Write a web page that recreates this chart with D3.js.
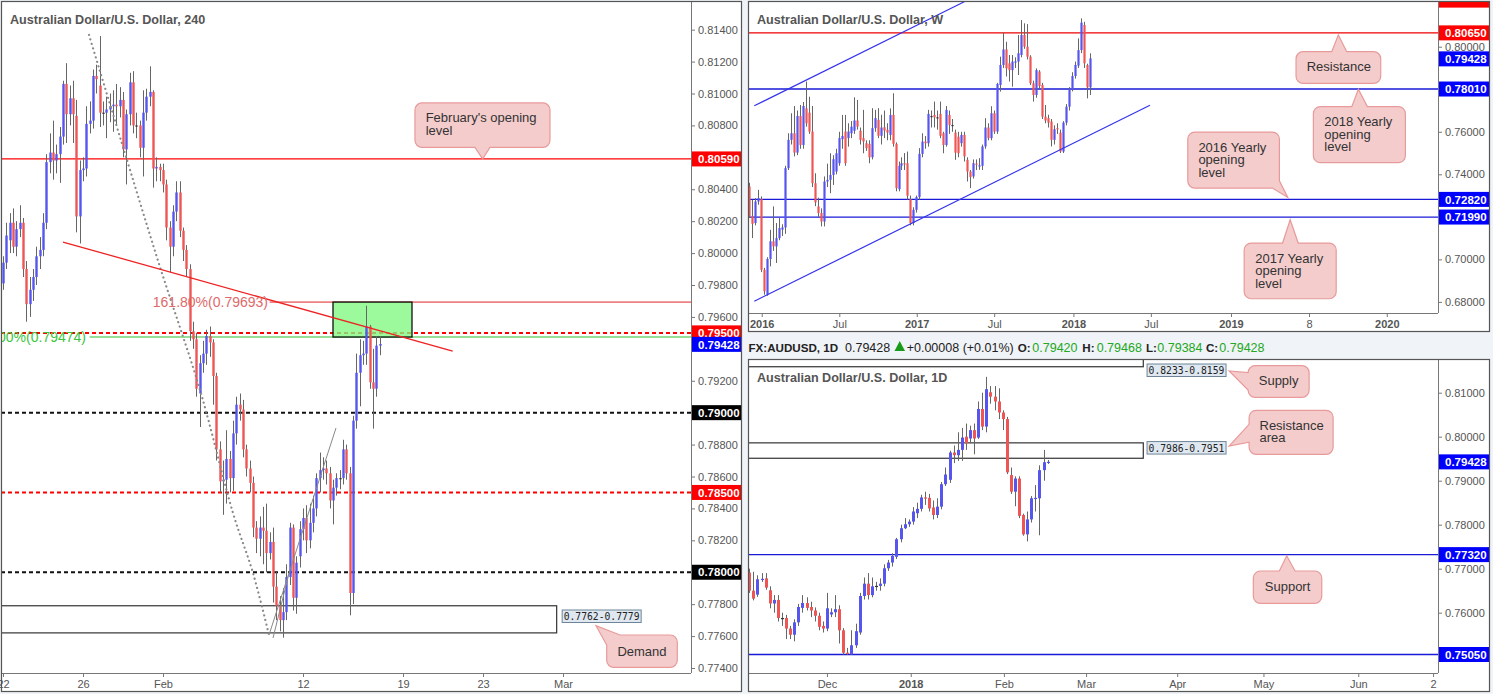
<!DOCTYPE html>
<html>
<head>
<meta charset="utf-8">
<script src="https://cdnjs.cloudflare.com/ajax/libs/d3/7.8.5/d3.min.js"></script>
<style>
  body { margin: 0; background: #f0f3f7; overflow: hidden; }
  svg { display: block; font-family: "Liberation Sans", Arial, sans-serif; }
</style>
</head>
<body>
<svg id="chart" width="1493" height="694"></svg>
<script>
// ---------- data: [open, high, low, close] ----------
const h4Ohlc = [
  [.7981,.7998,.7977,.7994],[.7994,.8019,.7990,.8011],[.8008,.8025,.8000,.8019],[.8019,.8028,.8000,.8004],
  [.8004,.8020,.7998,.8015],[.8015,.8030,.8010,.8019],[.8019,.8022,.7985,.7990],[.7990,.7995,.7957,.7968],
  [.7968,.7985,.7960,.7977],[.7977,.7990,.7970,.7985],[.7985,.8004,.7980,.7998],[.7998,.8010,.7990,.8002],
  [.8002,.8025,.7998,.8019],[.8019,.8062,.8015,.8057],[.8057,.8075,.8050,.8063],[.8063,.8083,.8046,.8058],
  [.8058,.8068,.8050,.8062],[.8062,.8079,.8044,.8073],[.8073,.8108,.8068,.8106],[.8106,.8119,.8069,.8087],
  [.8087,.8105,.8080,.8097],[.8097,.8108,.8069,.8087],[.8086,.8096,.8013,.8023],[.8023,.8058,.8006,.8052],
  [.8052,.8060,.8045,.8053],[.8053,.8092,.8048,.8081],[.8081,.8095,.8075,.8083],[.8083,.8115,.8078,.8111],
  [.8111,.8118,.8100,.8109],[.8105,.8136,.8079,.8088],[.8088,.8095,.8080,.8088],[.8088,.8098,.8072,.8090],
  [.8090,.8100,.8082,.8092],[.8092,.8102,.8076,.8093],[.8093,.8106,.8080,.8092],[.8092,.8104,.8085,.8096],
  [.8096,.8101,.8060,.8065],[.8065,.8090,.8043,.8087],[.8087,.8113,.8080,.8107],[.8107,.8114,.8075,.8080],
  [.8080,.8088,.8072,.8080],[.8080,.8083,.8060,.8066],[.8066,.8102,.8048,.8088],[.8088,.8103,.8083,.8098],
  [.8098,.8117,.8092,.8101],[.8101,.8102,.8041,.8053],[.8053,.8060,.8045,.8054],[.8054,.8056,.8045,.8052],
  [.8052,.8056,.8038,.8043],[.8043,.8046,.8008,.8016],[.8016,.8020,.7988,.8004],[.8004,.8030,.7998,.8026],
  [.8026,.8045,.8020,.8038],[.8038,.8045,.8010,.8014],[.8014,.8016,.7995,.8002],[.8002,.8005,.7985,.7990],
  [.7990,.7993,.7945,.7951],[.7951,.7957,.7940,.7946],[.7946,.7950,.7910,.7915],[.7912,.7936,.7891,.7931],
  [.7931,.7945,.7925,.7937],[.7937,.7952,.7930,.7948],[.7948,.7954,.7935,.7944],[.7944,.7946,.7905,.7923],
  [.7923,.7925,.7870,.7877],[.7877,.7882,.7850,.7857],[.7857,.7870,.7836,.7858],[.7858,.7889,.7843,.7871],
  [.7871,.7876,.7850,.7859],[.7859,.7895,.7851,.7887],[.7887,.7910,.7880,.7905],[.7905,.7912,.7895,.7902],
  [.7902,.7908,.7872,.7877],[.7877,.7880,.7860,.7865],[.7865,.7870,.7850,.7856],[.7856,.7860,.7822,.7828],
  [.7828,.7832,.7812,.7821],[.7821,.7835,.7810,.7828],[.7828,.7841,.7805,.7826],[.7826,.7843,.7800,.7812],
  [.7812,.7825,.7808,.7819],[.7819,.7828,.7781,.7791],[.7791,.7800,.7770,.7779],[.7779,.7785,.7763,.7770],
  [.7770,.7790,.7759,.7775],[.7775,.7805,.7770,.7797],[.7797,.7831,.7792,.7828],[.7828,.7830,.7776,.7784],
  [.7784,.7810,.7774,.7806],[.7810,.7832,.7803,.7827],[.7827,.7840,.7820,.7834],[.7834,.7842,.7812,.7820],
  [.7820,.7843,.7815,.7831],[.7831,.7848,.7825,.7840],[.7840,.7862,.7835,.7859],[.7859,.7875,.7850,.7864],
  [.7864,.7872,.7858,.7865],[.7865,.7870,.7855,.7862],[.7862,.7866,.7840,.7845],[.7845,.7858,.7830,.7853],
  [.7853,.7862,.7848,.7859],[.7859,.7864,.7852,.7859],[.7859,.7883,.7855,.7877],[.7877,.7880,.7858,.7862],
  [.7862,.7866,.7773,.7787],[.7787,.7898,.7780,.7895],[.7895,.7937,.7890,.7925],[.7925,.7946,.7904,.7936],
  [.7936,.7945,.7930,.7937],[.7937,.7967,.7930,.7954],[.7954,.7955,.7915,.7919],[.7919,.7940,.7890,.7915],
  [.7915,.7948,.7910,.7942],[.7942,.7948,.7936,.7943]
];

const weeklyOhlc = [
  [.7343,.7360,.7195,.7202],[.7202,.7280,.7100,.7167],[.7171,.7288,.7160,.7272],[.7272,.7327,.7257,.7288],
  [.7283,.7296,.6940,.6951],[.6951,.6960,.6834,.6850],[.6834,.7010,.6829,.7002],[.7002,.7139,.6967,.7085],
  [.7085,.7249,.7040,.7061],[.7061,.7171,.6983,.7100],[.7100,.7194,.7090,.7147],[.7140,.7165,.7110,.7150],
  [.7150,.7440,.7120,.7429],[.7429,.7593,.7420,.7562],[.7562,.7687,.7540,.7593],[.7593,.7721,.7484,.7502],
  [.7502,.7700,.7490,.7674],[.7674,.7726,.7520,.7538],[.7538,.7740,.7520,.7721],[.7710,.7836,.7624,.7640],
  [.7690,.7765,.7590,.7601],[.7601,.7721,.7340,.7358],[.7358,.7405,.7250,.7268],[.7249,.7290,.7200,.7218],
  [.7218,.7240,.7155,.7178],[.7178,.7390,.7155,.7366],[.7366,.7450,.7340,.7374],[.7374,.7499,.7311,.7397],
  [.7397,.7490,.7350,.7471],[.7413,.7520,.7400,.7499],[.7452,.7600,.7440,.7570],[.7565,.7679,.7520,.7580],
  [.7601,.7679,.7440,.7452],[.7570,.7640,.7530,.7601],[.7593,.7650,.7570,.7624],[.7605,.7762,.7590,.7653],
  [.7653,.7750,.7610,.7624],[.7605,.7620,.7540,.7562],[.7570,.7703,.7499,.7554],[.7546,.7560,.7510,.7523],
  [.7543,.7560,.7452,.7480],[.7480,.7711,.7470,.7617],[.7617,.7703,.7600,.7664],[.7656,.7711,.7570,.7581],
  [.7581,.7680,.7540,.7620],[.7621,.7700,.7570,.7606],[.7609,.7640,.7560,.7596],[.7585,.7710,.7560,.7679],
  [.7679,.7781,.7530,.7543],[.7543,.7550,.7320,.7335],[.7330,.7460,.7320,.7440],[.7440,.7480,.7420,.7452],
  [.7452,.7500,.7420,.7449],[.7452,.7507,.7280,.7299],[.7283,.7300,.7160,.7171],[.7171,.7245,.7160,.7233],
  [.7233,.7300,.7220,.7293],[.7293,.7523,.7280,.7496],[.7496,.7593,.7480,.7554],[.7554,.7580,.7520,.7546],
  [.7546,.7703,.7530,.7684],[.7674,.7700,.7620,.7674],[.7679,.7742,.7620,.7668],[.7668,.7700,.7610,.7668],
  [.7684,.7742,.7570,.7581],[.7593,.7600,.7499,.7538],[.7538,.7721,.7530,.7703],[.7679,.7700,.7590,.7632],
  [.7632,.7660,.7600,.7632],[.7596,.7610,.7468,.7502],[.7577,.7600,.7480,.7499],[.7546,.7600,.7530,.7585],
  [.7585,.7600,.7460,.7484],[.7468,.7480,.7366,.7413],[.7413,.7420,.7335,.7387],[.7390,.7470,.7380,.7452],
  [.7450,.7470,.7420,.7449],[.7440,.7476,.7421,.7442],[.7440,.7540,.7420,.7531],[.7531,.7664,.7520,.7620],
  [.7620,.7640,.7560,.7570],[.7570,.7720,.7560,.7687],[.7687,.7700,.7590,.7601],[.7601,.7830,.7590,.7825],
  [.7820,.7953,.7789,.7914],[.7914,.8066,.7900,.7987],[.7987,.8023,.7860,.7898],[.7922,.7961,.7836,.7890],
  [.7890,.7961,.7812,.7930],[.7930,.7950,.7900,.7931],[.7930,.8055,.7867,.7969],[.7961,.8125,.7950,.8055],
  [.8055,.8110,.7990,.8000],[.8000,.8106,.7940,.7953],[.7953,.7960,.7820,.7828],[.7828,.7840,.7742,.7773],
  [.7773,.7898,.7760,.7890],[.7883,.7890,.7800,.7815],[.7820,.7830,.7660,.7671],[.7671,.7726,.7640,.7653],
  [.7664,.7680,.7620,.7643],[.7648,.7660,.7531,.7562],[.7562,.7630,.7540,.7612],[.7617,.7640,.7590,.7616],
  [.7596,.7610,.7500,.7507],[.7507,.7650,.7500,.7643],[.7643,.7730,.7630,.7718],[.7718,.7810,.7700,.7800],
  [.7800,.7880,.7790,.7862],[.7862,.7930,.7850,.7914],[.7911,.8039,.7900,.7984],[.7984,.8133,.7970,.8113],
  [.8102,.8117,.7900,.7922],[.7914,.7920,.7757,.7809],[.7809,.7969,.7773,.7945]
];

const dailyOhlc = [
  [.7691,.7700,.7645,.7650],[.7650,.7693,.7628,.7632],[.7641,.7685,.7636,.7676],[.7676,.7690,.7670,.7677],
  [.7678,.7690,.7652,.7657],[.7651,.7660,.7610,.7621],[.7621,.7640,.7600,.7629],[.7629,.7640,.7580,.7588],
  [.7588,.7600,.7570,.7588],[.7588,.7595,.7540,.7564],[.7564,.7570,.7540,.7550],[.7550,.7585,.7535,.7578],
  [.7578,.7620,.7570,.7613],[.7611,.7640,.7600,.7622],[.7622,.7635,.7605,.7611],[.7613,.7625,.7590,.7605],
  [.7605,.7612,.7580,.7593],[.7593,.7600,.7560,.7568],[.7570,.7580,.7555,.7564],[.7564,.7645,.7558,.7610],
  [.7596,.7610,.7590,.7601],[.7601,.7640,.7590,.7608],[.7608,.7617,.7530,.7560],[.7560,.7565,.7505,.7509],
  [.7509,.7520,.7504,.7508],[.7505,.7560,.7505,.7526],[.7526,.7575,.7520,.7558],[.7555,.7645,.7550,.7638],
  [.7638,.7680,.7630,.7666],[.7666,.7690,.7630,.7640],[.7640,.7680,.7635,.7660],[.7661,.7670,.7650,.7661],
  [.7661,.7678,.7650,.7666],[.7666,.7710,.7660,.7701],[.7701,.7720,.7695,.7714],[.7714,.7735,.7705,.7729],
  [.7727,.7770,.7722,.7767],[.7767,.7800,.7760,.7792],[.7792,.7815,.7790,.7801],[.7801,.7812,.7795,.7807],
  [.7807,.7840,.7800,.7830],[.7826,.7850,.7815,.7836],[.7836,.7868,.7830,.7862],[.7862,.7875,.7845,.7861],
  [.7861,.7870,.7830,.7837],[.7839,.7855,.7812,.7822],[.7822,.7860,.7815,.7841],[.7841,.7897,.7835,.7892],
  [.7892,.7930,.7888,.7914],[.7902,.7968,.7895,.7964],[.7964,.7980,.7940,.7958],[.7958,.8010,.7945,.7970],
  [.7970,.8020,.7945,.7998],[.8000,.8030,.7970,.7985],[.7996,.8025,.7985,.8015],[.8015,.8030,.7960,.7996],
  [.7998,.8080,.7995,.8063],[.8063,.8100,.8015,.8023],[.8023,.8136,.8010,.8108],[.8101,.8115,.8075,.8091],
  [.8091,.8115,.8060,.8080],[.8080,.8110,.8040,.8055],[.8055,.8060,.8015,.8040],[.8040,.8045,.7915,.7919],
  [.7913,.7930,.7870,.7875],[.7875,.7910,.7842,.7905],[.7905,.7910,.7815,.7820],[.7822,.7825,.7775,.7778],
  [.7778,.7830,.7762,.7812],[.7812,.7865,.7805,.7860],[.7860,.7890,.7830,.7861],[.7860,.7935,.7776,.7924],
  [.7924,.7970,.7900,.7942],[.7942,.7947,.7938,.7943]
];

// tick labels (positions are candle index units)
const h4TimeTicks = [0, 24, 48, 90, 120, 144, 168];
const h4TimeLabels = ["22", "26", "Feb", "12", "19", "23", "Mar"];
const h4PriceTicks = d3.range(0.774, 0.8141, 0.002);
const wkTimeTicks = [4.25, 30.2, 56.1, 82, 108.5, 134.4, 161.2, 187.3, 213.3];
const wkTimeLabels = ["2016", "Jul", "2017", "Jul", "2018", "Jul", "2019", "8", "2020"];
const wkPriceTicks = d3.range(0.68, 0.8201, 0.02);
const d1TimeTicks = [19, 39.5, 62.3, 82.4, 104.7, 125.8, 149, 167.3];
const d1TimeLabels = ["Dec", "2018", "Feb", "Mar", "Apr", "May", "Jun", "2"];
const d1PriceTicks = d3.range(0.75, 0.8101, 0.01);

// levels
const h4Levels = [0.8059, 0.7950, 0.7900, 0.7850, 0.7800];
const h4LevelStyle = [["#ff0000", null, 1.2], ["#ff0000", "4,3", 2], ["#111", "4,3", 2], ["#ff0000", "4,3", 2], ["#111", "4,3", 2]];
const h4Tags = [[0.8059, "#ff0000"], [0.7950, "#ff0000"], [0.79428, "#0000ff"], [0.7900, "#000000"], [0.7850, "#ff0000"], [0.7800, "#000000"]];
const h4Fib = [0.79693, 0.79474];
const h4Demand = [0.7762, 0.7779];
const h4Trend = [[18, 0.80069], [134.9, 0.79386]];
const h4Arc = [[25.8, 0.81367], [37.2, 0.80583], [47.1, 0.79913], [59.1, 0.79142], [69, 0.78371], [75, 0.77995], [79.8, 0.77607]];
const h4Legs = [[[79.8, 0.77607], [99.9, 0.78904]], [[81, 0.77588], [86, 0.7801]]];

const wkLevels = [0.8065, 0.7801, 0.7282, 0.7199];
const wkTags = [[0.8219, "#ff0000"], [0.8065, "#ff0000"], [0.79428, "#0000ff"], [0.7801, "#0000ff"], [0.7282, "#0000ff"], [0.7199, "#0000ff"]];
const wkChannel = [[[1.77, 0.7722], [72, 0.8211]], [[1.77, 0.6803], [134.1, 0.7725]]];

const d1Levels = [0.7732, 0.7505];
const d1Tags = [[0.79428, "#0000ff"], [0.7732, "#0000ff"], [0.7505, "#0000ff"]];
const d1Zones = [[0.8159, 0.8233, "0.8233-0.8159"], [0.7951, 0.7986, "0.7986-0.7951"]];

const UP = "#5656ee", DOWN = "#ee5656";
const svg = d3.select("#chart");
const fmt = d3.format(".5f");

// scales
const h4X = d3.scaleLinear().domain([0, 120]).range([3, 403]);
const h4Y = d3.scaleLinear().domain([0.774, 0.798]).range([668, 285]);
const wkX = d3.scaleLinear().domain([0, 100]).range([749, 1048]);
const wkY = d3.scaleLinear().domain([0.68, 0.80]).range([301.9, 46.7]);
const d1X = d3.scaleLinear().domain([0, 100]).range([749.3, 1158]);
const d1Y = d3.scaleLinear().domain([0.76, 0.81]).range([612.7, 392.7]);

let clipId = 0;
function panel(p) {
  const g = svg.append("g");
  g.append("rect").attr("x", p.x0).attr("y", p.y0).attr("width", p.x1 - p.x0).attr("height", p.y1 - p.y0).attr("fill", "#fff");
  const id = "clip" + (clipId++);
  svg.append("clipPath").attr("id", id).append("rect")
     .attr("x", p.x0).attr("y", p.y0).attr("width", p.plotR - p.x0).attr("height", p.plotB - p.y0);
  const plot = g.append("g").attr("clip-path", `url(#${id})`);
  return {g, plot};
}

function candles(g, data, x, y, bw) {
  const c = g.append("g").selectAll("g").data(data).join("g");
  c.append("line")
   .attr("x1", (d, i) => Math.round(x(i)) + 0.5).attr("x2", (d, i) => Math.round(x(i)) + 0.5)
   .attr("y1", d => y(d[1])).attr("y2", d => y(d[2]))
   .attr("stroke", "#666").attr("stroke-width", 1);
  c.append("rect")
   .attr("x", (d, i) => Math.round(x(i)) + 0.5 - bw / 2).attr("width", bw)
   .attr("y", d => y(Math.max(d[0], d[3])))
   .attr("height", d => Math.max(1.2, Math.abs(y(d[0]) - y(d[3]))))
   .attr("fill", d => d[3] > d[0] ? UP : d[3] < d[0] ? DOWN : "#333");
}

function hline(g, p, yv, color, dash, w, xStart) {
  g.append("line").attr("x1", xStart == null ? p.x0 : xStart).attr("x2", p.plotR)
   .attr("y1", yv).attr("y2", yv).attr("stroke", color).attr("stroke-width", w)
   .attr("stroke-dasharray", dash);
}

function axes(g, p, x, y, pTicks, tTicks, tLabels, tagList) {
  // skip price labels that sit under a coloured price tag
  const free = pTicks.filter(v => y(v) > p.y0 + 6 && y(v) < p.plotB - 4 &&
                                  !tagList.some(t => Math.abs(y(t[0]) - y(v)) < 11));
  const ya = g.append("g").attr("transform", `translate(${p.plotR},0)`)
    .call(d3.axisRight(y).tickValues(free).tickSize(4).tickSizeOuter(0).tickPadding(3).tickFormat(fmt));
  const xa = g.append("g").attr("transform", `translate(0,${p.plotB})`)
    .call(d3.axisBottom(x).tickValues(tTicks).tickSize(4).tickSizeOuter(0).tickPadding(3).tickFormat((d, i) => tLabels[i]));
  [ya, xa].forEach(a => {
    a.select(".domain").remove();
    a.attr("font-family", null).attr("font-size", 11);
    a.selectAll("line").attr("stroke", "#777");
    a.selectAll("text").attr("fill", "#555");
  });
  xa.selectAll("text").attr("font-weight", function () { return /^\d{4}$/.test(this.textContent) ? "bold" : null; });
  g.append("line").attr("x1", p.plotR + 0.5).attr("x2", p.plotR + 0.5).attr("y1", p.y0).attr("y2", p.plotB).attr("stroke", "#777");
  g.append("line").attr("x1", p.x0).attr("x2", p.plotR).attr("y1", p.plotB + 0.5).attr("y2", p.plotB + 0.5).attr("stroke", "#777");
}

function tags(g, p, y, list) {
  const t = g.append("g");
  list.forEach(([v, col]) => {
    const yy = y(v);
    t.append("rect").attr("x", p.plotR + 1).attr("y", Math.max(p.y0, yy - 7.5)).attr("width", p.x1 - p.plotR - 1)
     .attr("height", Math.min(15, yy + 7.5 - p.y0)).attr("fill", col);
    if (yy - 7.5 >= p.y0)
      t.append("text").attr("x", p.plotR + 7).attr("y", yy + 4.2).attr("fill", "#fff")
       .attr("font-size", 11.5).attr("font-weight", "bold").text(fmt(v));
  });
}

function frame(p) {
  svg.append("rect").attr("x", p.x0 + 0.5).attr("y", p.y0 + 0.5).attr("width", p.x1 - p.x0 - 1).attr("height", p.y1 - p.y0 - 1)
     .attr("fill", "none").attr("stroke", "#555").attr("stroke-width", 1.2);
}

function callout(g, tx, ty, s) {
  const r = 7, x = tx + s.dx, y = ty + s.dy, X = x + s.w, Y = y + s.h, lh = s.lh || 12.5;
  let d = s.side === "tl" ? `M${x},${y + s.a}L${tx},${ty}L${x + s.b},${y}` : `M${x},${y + r}A${r},${r} 0 0 1 ${x + r},${y}`;
  if (s.side === "top") d += `L${tx + s.a},${y}L${tx},${ty}L${tx + s.b},${y}`;
  d += `L${X - r},${y}A${r},${r} 0 0 1 ${X},${y + r}`;
  if (s.side === "br") d += `L${X},${y + s.a}L${tx},${ty}L${x + s.b},${Y}`;
  else d += `L${X},${Y - r}A${r},${r} 0 0 1 ${X - r},${Y}`;
  if (s.side === "bottom") d += `L${tx + s.b},${Y}L${tx},${ty}L${tx + s.a},${Y}`;
  d += `L${x + r},${Y}A${r},${r} 0 0 1 ${x},${Y - r}`;
  if (s.side === "left") d += `L${x},${y + s.b}L${tx},${ty}L${x},${y + s.a}`;
  d += s.side === "tl" ? `L${x},${y + s.a}Z` : `L${x},${y + r}Z`;
  g.append("path").attr("d", d).attr("fill", "#f4cccc").attr("stroke", "#e89a9a").attr("stroke-width", 1.2);
  s.lines.forEach((ln, k) => {
    g.append("text").attr("x", s.center ? x + s.w / 2 : x + s.pad).attr("y", y + s.base + k * lh)
     .attr("text-anchor", s.center ? "middle" : "start").attr("fill", "#333").attr("font-size", 13).text(ln);
  });
}

function rangeTag(g, x, y, label) {
  g.append("rect").attr("x", x + 0.5).attr("y", y + 0.5).attr("width", 79).attr("height", 12.5)
   .attr("fill", "#dfe8f0").attr("stroke", "#6f8597");
  g.append("text").attr("x", x + 2).attr("y", y + 10.5).attr("fill", "#222")
   .attr("font-family", "DejaVu Sans Mono, monospace").attr("font-size", 9.7).text(label);
}

function title(g, x, y, t) {
  g.append("text").attr("x", x).attr("y", y).attr("fill", "#555").attr("font-weight", "bold").attr("font-size", 12.6).text(t);
}

// ================= 4H panel =================
{
  const p = {x0: 1, y0: 1, x1: 742, y1: 692, plotR: 691, plotB: 673};
  const {g, plot} = panel(p);
  const line = d3.line().x(d => h4X(d[0])).y(d => h4Y(d[1]));
  h4Levels.forEach((v, i) => hline(plot, p, h4Y(v), ...h4LevelStyle[i]));
  hline(plot, p, h4Y(h4Fib[0]), "#dd2222", null, 1, h4X(80));
  hline(plot, p, h4Y(h4Fib[1]), "#33bb33", null, 1.2, h4X(26));
  plot.append("rect").attr("x", h4X(-2)).attr("width", h4X(166.1) - h4X(-2))
      .attr("y", h4Y(h4Demand[1])).attr("height", h4Y(h4Demand[0]) - h4Y(h4Demand[1]))
      .attr("fill", "none").attr("stroke", "#333").attr("stroke-width", 1.2);
  plot.append("rect").attr("x", h4X(99)).attr("width", h4X(122.7) - h4X(99))
      .attr("y", h4Y(h4Fib[0])).attr("height", h4Y(h4Fib[1]) - h4Y(h4Fib[0]))
      .attr("fill", "#80f880").attr("fill-opacity", 0.78).attr("stroke", "#111").attr("stroke-width", 1.3);
  candles(plot, h4Ohlc, h4X, h4Y, 2.4);
  plot.append("path").attr("d", line.curve(d3.curveCatmullRom)(h4Arc)).attr("fill", "none")
      .attr("stroke", "#888").attr("stroke-width", 2.2).attr("stroke-dasharray", "0.1,4.6").attr("stroke-linecap", "round");
  h4Legs.forEach(l => plot.append("path").attr("d", d3.line().x(d => h4X(d[0])).y(d => h4Y(d[1]))(l))
      .attr("stroke", "#888").attr("stroke-width", 1).attr("fill", "none"));
  plot.append("path").attr("d", d3.line().x(d => h4X(d[0])).y(d => h4Y(d[1]))(h4Trend))
      .attr("stroke", "#ee2222").attr("stroke-width", 1.3).attr("fill", "none");
  plot.append("text").attr("x", 268).attr("y", h4Y(h4Fib[0]) + 5).attr("text-anchor", "end")
      .attr("fill", "#e06a6a").attr("font-size", 14).text("161.80%(0.79693)");
  plot.append("text").attr("x", 86).attr("y", h4Y(h4Fib[1]) + 5).attr("text-anchor", "end")
      .attr("fill", "#3cc43c").attr("font-size", 14).text("100%(0.79474)");
  rangeTag(plot, h4X(167.6), 609.5, "0.7762-0.7779");
  callout(plot, h4X(143.9), h4Y(0.8059), {dx: -67.7, dy: -56, w: 135, h: 44.4, side: "bottom", a: -7.7, b: 7.3,
          lines: ["February's opening", "level"], pad: 10.7, base: 19.5, lh: 13});
  callout(plot, h4X(177.9), h4Y(0.77665), {dx: 10.7, dy: 9.3, w: 70.6, h: 32.3, side: "tl", a: 10, b: 13.3,
          lines: ["Demand"], center: true, base: 20.5});
  title(g, 10, 23.5, "Australian Dollar/U.S. Dollar, 240");
  axes(g, p, h4X, h4Y, h4PriceTicks, h4TimeTicks, h4TimeLabels, h4Tags);
  tags(g, p, h4Y, h4Tags);
  frame(p);
}

// ================= Weekly panel =================
{
  const p = {x0: 748, y0: 1, x1: 1490, y1: 332, plotR: 1438, plotB: 313};
  const {g, plot} = panel(p);
  wkLevels.forEach((v, i) => hline(plot, p, wkY(v), i === 0 ? "#ee0000" : "#1a1ad8", null, 1.3));
  candles(plot, weeklyOhlc, wkX, wkY, 2.2);
  wkChannel.forEach(l => plot.append("path").attr("d", d3.line().x(d => wkX(d[0])).y(d => wkY(d[1]))(l))
      .attr("stroke", "#3333ee").attr("stroke-width", 1.2).attr("fill", "none"));
  callout(plot, wkX(197.1), wkY(0.80549), {dx: -42.3, dy: 16.7, w: 84.7, h: 31.6, side: "top", a: -6.6, b: 8.4,
          lines: ["Resistance"], pad: 10.7, base: 19.5});
  callout(plot, wkX(203.8), wkY(0.7800), {dx: -45, dy: 17.4, w: 92, h: 56, side: "top", a: -6.6, b: 9,
          lines: ["2018 Yearly", "opening", "level"], pad: 11, base: 19.5});
  callout(plot, wkX(180.2), wkY(0.72911), {dx: -100, dy: -65.4, w: 91.6, h: 56, side: "br", a: 48.7, b: 84.6,
          lines: ["2016 Yearly", "opening", "level"], pad: 10.6, base: 19.8});
  callout(plot, wkX(181.0), wkY(0.71864), {dx: -46, dy: 23.3, w: 92, h: 55.7, side: "top", a: -7.6, b: 8,
          lines: ["2017 Yearly", "opening", "level"], pad: 11, base: 19.8});
  title(g, 757, 23.5, "Australian Dollar/U.S. Dollar, W");
  axes(g, p, wkX, wkY, wkPriceTicks, wkTimeTicks, wkTimeLabels, wkTags);
  tags(g, p, wkY, wkTags);
  frame(p);
}

// ================= Header strip =================
{
  const hy = 351.5, hg = svg.append("g").attr("font-size", 12.5);
  const parts = [
    [748.5, "FX:AUDUSD, 1D", "#222", "bold"], [845, "0.79428", "#222"], [906.7, "+0.00008 (+0.01%)", "#222"],
    [1017.7, "O:", "#222", "bold"], [1032.3, "0.79420", "#22a822"], [1082.3, "H:", "#222", "bold"], [1096.7, "0.79468", "#22a822"],
    [1146, "L:", "#222", "bold"], [1157.3, "0.79384", "#22a822"], [1206, "C:", "#222", "bold"], [1219.3, "0.79428", "#22a822"]
  ];
  parts.forEach(([x, t, c, w]) => hg.append("text").attr("x", x).attr("y", hy).attr("fill", c)
    .attr("font-weight", w || null).attr("font-size", w ? 11.6 : null).text(t));
  hg.append("path").attr("d", "M894.5,351L905,351L899.75,341Z").attr("fill", "#1a9a1a");
}

// ================= Daily panel =================
{
  const p = {x0: 748, y0: 359, x1: 1490, y1: 692, plotR: 1438, plotB: 673};
  const {g, plot} = panel(p);
  d1Levels.forEach(v => hline(plot, p, d1Y(v), "#1a1ad8", null, 1.3));
  d1Zones.forEach(z => {
    plot.append("rect").attr("x", d1X(-3)).attr("width", d1X(96.4) - d1X(-3))
        .attr("y", d1Y(z[1])).attr("height", d1Y(z[0]) - d1Y(z[1]))
        .attr("fill", "none").attr("stroke", "#333").attr("stroke-width", 1.2);
  });
  candles(plot, dailyOhlc, d1X, d1Y, 3);
  rangeTag(plot, d1X(97.2), 363.5, d1Zones[0][2]);
  rangeTag(plot, d1X(97.2), d1Y(d1Zones[1][1]) - 1.8, d1Zones[1][2]);
  callout(plot, d1X(117.4), d1Y(0.81493), {dx: 19, dy: -5.3, w: 61, h: 31.6, side: "left", a: 7, b: 24.3,
          lines: ["Supply"], center: true, base: 19.5});
  callout(plot, d1X(117.4), d1Y(0.79789), {dx: 20, dy: -35.7, w: 84, h: 44, side: "left", a: 14, b: 32,
          lines: ["Resistance", "area"], pad: 10.4, base: 19.7});
  callout(plot, d1X(131.5), d1Y(0.77295), {dx: -33.4, dy: 15.3, w: 68.4, h: 32.3, side: "top", a: -7.4, b: 8.3,
          lines: ["Support"], center: true, base: 20});
  title(g, 757, 382, "Australian Dollar/U.S. Dollar, 1D");
  axes(g, p, d1X, d1Y, d1PriceTicks, d1TimeTicks, d1TimeLabels, d1Tags);
  tags(g, p, d1Y, d1Tags);
  frame(p);
}
</script>
</body>
</html>
